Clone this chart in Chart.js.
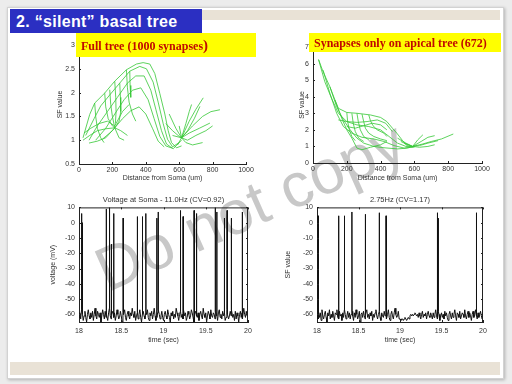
<!DOCTYPE html>
<html>
<head>
<meta charset="utf-8">
<script src="https://cdn.jsdelivr.net/npm/chart.js@4.4.0/dist/chart.umd.min.js"></script>
<style>
  body { margin: 0; width: 512px; height: 384px; background: #ececec; overflow: hidden; position: relative; font-family: Arial, "Liberation Sans", sans-serif; }
  #slide { position: absolute; left: 7px; top: 7px; width: 495px; height: 370px; background: #fff; border: 1px solid #d2d2d2; box-shadow: 1px 1px 3px rgba(0,0,0,0.25); }
  .strip { position: absolute; background: #e9e2d6; }
  #head { position: absolute; left: 10px; top: 9px; width: 192px; height: 24px; background: #2b2fc2; color: #fff; font: bold 16px Arial, "Liberation Sans", sans-serif; letter-spacing: 0.3px; line-height: 25px; padding-left: 6px; box-sizing: border-box; z-index: 3; }
  .label { position: absolute; background: #ffff00; color: #c00a00; font: bold 12px "Liberation Serif", "Times New Roman", serif; box-sizing: border-box; padding-left: 5px; z-index: 3; white-space: nowrap; }
  .label span { font-size: 15px; }
  #mark { position: absolute; left: 50px; top: 175px; width: 400px; text-align: center; font: 62px Arial, "Liberation Sans", sans-serif; line-height: 62px; color: #c8c8c8; transform: rotate(-24deg); z-index: 1; }
  canvas { position: absolute; z-index: 2; }
</style>
</head>
<body>
<div id="slide"></div>
<div class="strip" style="left:202px;top:10px;width:298px;height:10px"></div>
<div class="strip" style="left:10px;top:362px;width:490px;height:13px"></div>
<div id="head">2. “silent” basal tree</div>
<div class="label" style="left:76px;top:33px;width:180px;height:24px;line-height:24px">Full tree (1000 synapses<span>)</span></div>
<div class="label" style="left:309px;top:33px;width:192px;height:19px;line-height:20px">Synapses only on apical tree (672)</div>
<div id="mark">Do not copy</div>
<canvas id="c1" width="220" height="160" style="left:40px;top:30px"></canvas>
<canvas id="c2" width="230" height="160" style="left:270px;top:30px"></canvas>
<canvas id="c3" width="220" height="160" style="left:40px;top:190px"></canvas>
<canvas id="c4" width="230" height="160" style="left:270px;top:190px"></canvas>
<script>
// SF value vs distance from soma, one polyline per branch path [distance, SF]
const fullTree = [
  [[24,1.05],[64,1.54],[94,1.78],[154,1.99],[214,2.24],[284,2.48],[344,2.6],[384,2.63],[424,2.6],[454,2.4],[484,1.98],[514,1.55],[534,1.2],[554,0.95],[584,0.84],[614,0.88]],
  [[40,1.1],[90,1.45],[130,1.72],[184,1.95],[244,2.2],[304,2.45],[364,2.55],[404,2.5],[444,2.22],[474,1.8],[504,1.35],[530,1.02],[560,0.86],[600,0.95]],
  [[60,1.0],[110,1.3],[170,1.6],[230,1.9],[290,2.2],[340,2.35],[390,2.35],[430,2.05],[460,1.65],[494,1.2],[524,0.92],[564,0.82],[614,1.0]],
  [[100,1.0],[160,1.25],[214,1.55],[270,1.85],[320,2.05],[370,2.1],[414,1.85],[450,1.45],[484,1.08],[520,0.88],[560,0.83]],
  [[140,1.02],[200,1.2],[260,1.45],[310,1.62],[360,1.7],[400,1.55],[440,1.25],[474,0.98],[510,0.86]],
  [[94,1.78],[100,1.5],[110,1.25],[130,1.05],[150,0.95]],
  [[154,1.99],[160,1.7],[175,1.45],[200,1.3],[214,1.26]],
  [[184,2.06],[190,1.75],[200,1.5],[214,1.26]],
  [[244,2.2],[248,1.9],[250,1.6],[240,1.4],[214,1.26]],
  [[214,2.24],[220,1.9],[222,1.6],[218,1.35]],
  [[284,2.48],[290,2.1],[300,1.8],[320,1.55],[340,1.4]],
  [[304,2.45],[306,2.15],[310,1.9]],
  [[24,1.0],[64,1.1],[110,1.2],[160,1.24],[214,1.26],[250,1.2],[290,1.1]],
  [[30,1.15],[70,1.25],[120,1.35],[170,1.4],[214,1.3],[260,1.6],[300,1.75]],
  [[60,0.94],[110,0.98],[160,1.05],[214,1.26],[240,1.05],[270,1.0]],
  [[520,1.35],[560,1.2],[600,1.08],[614,1.05],[660,1.4],[700,1.65],[744,1.89]],
  [[540,1.55],[580,1.25],[614,1.05],[650,1.2],[690,1.45],[724,1.71]],
  [[560,1.1],[614,1.05],[680,1.3],[740,1.5],[790,1.6],[844,1.64]],
  [[590,0.9],[614,1.05],[660,1.15],[720,1.25],[784,1.36]],
  [[600,1.3],[614,1.05],[640,0.95],[680,0.9],[740,0.95]],
  [[614,1.05],[640,1.35],[660,1.6],[674,1.75]],
  [[614,1.05],[650,1.0],[700,1.1],[760,1.2],[800,1.3]]
];
const apicalTree = [
  [[33,6.24],[60,5.5],[100,4.6],[130,3.8],[150,3.3],[200,3.05],[260,3.0],[340,2.9],[400,2.75],[437,2.5],[470,2.1],[496,1.8],[530,1.35],[555,1.05],[590,0.95]],
  [[33,6.24],[70,4.9],[110,3.9],[150,3.0],[200,2.5],[260,2.3],[330,2.2],[400,2.0],[450,1.6],[500,1.2],[550,1.0],[600,0.95]],
  [[60,5.6],[100,4.2],[140,3.0],[180,2.2],[230,1.8],[290,1.55],[360,1.45],[420,1.3],[480,1.05],[540,0.9],[600,1.0]],
  [[100,4.6],[140,3.4],[180,2.6],[220,2.0],[260,1.5],[300,1.2],[360,1.0],[420,0.92],[500,0.85],[560,0.9]],
  [[130,3.8],[170,2.7],[200,2.0],[230,1.5],[260,0.9],[290,0.8],[340,0.95],[400,1.1],[437,1.3]],
  [[200,3.05],[205,2.5],[215,2.0],[230,1.6],[250,1.35]],
  [[230,3.0],[238,2.4],[250,1.9],[270,1.5],[300,1.3]],
  [[260,3.0],[268,2.5],[280,2.0],[300,1.6],[330,1.4]],
  [[290,2.95],[300,2.5],[310,2.1],[330,1.8],[360,1.6],[400,1.45],[437,1.35]],
  [[330,2.9],[340,2.55],[355,2.25],[380,2.0],[420,1.8],[437,1.6]],
  [[200,2.2],[250,2.1],[300,2.25],[350,2.4],[400,2.3],[437,2.0]],
  [[150,2.6],[200,2.5],[260,2.45],[320,2.5],[380,2.6],[430,2.4],[470,1.9]],
  [[520,1.3],[560,1.1],[590,1.0],[640,1.3],[680,1.55],[720,1.65]],
  [[540,1.2],[590,1.0],[650,1.15],[700,1.3],[760,1.45],[830,1.75]],
  [[560,0.9],[590,1.0],[630,1.05],[680,1.2],[740,1.35]],
  [[500,1.5],[550,1.2],[590,1.0],[620,1.4],[650,1.7]],
  [[590,1.0],[630,0.95],[680,1.0],[720,1.1]]
];

const distTicks = [0, 200, 400, 600, 800, 1000];
const sfTicksFull = [0.5, 1, 1.5, 2, 2.5, 3];
const sfTicksApical = [0, 1, 2, 3, 4, 5, 6, 7];
const timeTicks = [18, 18.5, 19, 19.5, 20];
const voltTicks = [-60, -50, -40, -30, -20, -10, 0, 10];

// membrane voltage between spikes, sampled every 10 ms from t = 18 s
const somaBase = [
  -62,-59,-63,-57,-60,-64,-61,-58,-62,-65,-60,-57,-61,-63,-59,-62,-58,-64,-60,-56,
  -61,-63,-58,-60,-62,-59,-65,-61,-57,-60,-63,-58,-62,-60,-64,-59,-56,-61,-63,-60,
  -58,-62,-59,-64,-61,-57,-60,-63,-62,-58,-61,-65,-59,-60,-57,-62,-64,-60,-58,-61,
  -63,-59,-61,-56,-60,-62,-58,-64,-61,-59,-63,-60,-57,-62,-65,-60,-58,-61,-63,-59,
  -60,-57,-62,-64,-59,-61,-58,-63,-60,-56,-61,-64,-62,-59,-57,-60,-63,-61,-58,-62,
  -64,-60,-58,-61,-63,-57,-60,-62,-65,-59,-61,-58,-63,-60,-62,-56,-59,-61,-64,-60,
  -58,-62,-60,-63,-57,-61,-59,-64,-62,-58,-60,-63,-61,-57,-59,-62,-65,-60,-58,-61,
  -62,-59,-64,-60,-58,-61,-63,-56,-60,-62,-59,-65,-61,-58,-60,-63,-57,-61,-62,-59,
  -60,-63,-58,-61,-64,-59,-57,-62,-60,-63,-58,-61,-59,-64,-62,-57,-60,-63,-61,-58,
  -61,-57,-62,-60,-64,-58,-63,-59,-61,-65,-60,-58,-62,-59,-63,-56,-60,-62,-58,-61,
  -60
];
const somaSpikeTimes = [18.03,18.04,18.32,18.36,18.38,18.41,18.52,18.69,18.75,18.79,18.92,18.935,19.20,19.23,19.36,19.39,19.61,19.63,19.72,19.75,19.80,19.93];
const somaSpikePeaks = [6,0,9,10,-14,6,3,4,4,6,3,7,8,4,8,6,10,7,3,8,3,7];

const apicalBase = [
  -60,-63,-58,-62,-59,-64,-57,-61,-63,-60,-58,-62,-65,-59,-61,-57,-63,-60,-62,-58,
  -61,-64,-59,-60,-57,-62,-63,-58,-61,-60,-64,-59,-62,-57,-60,-63,-61,-58,-62,-59,
  -63,-60,-58,-61,-64,-59,-62,-57,-60,-63,-61,-58,-65,-60,-59,-62,-58,-61,-63,-60,
  -57,-62,-60,-63,-59,-61,-58,-64,-60,-62,-59,-57,-61,-63,-60,-58,-62,-64,-59,-61,
  -62,-58,-61,-59,-63,-60,-57,-62,-64,-60,-58,-61,-63,-59,-56,-60,-62,-61,-58,-63,
  -63,-64,-63,-63,-64,-63,-62,-63,-64,-63,-62,-63,-61,-60,-61,-60,-61,-60,-59,-60,
  -61,-60,-62,-59,-61,-63,-60,-58,-62,-60,-61,-59,-63,-60,-58,-61,-62,-59,-61,-63,
  -59,-62,-60,-57,-61,-63,-58,-60,-64,-61,-59,-62,-60,-63,-58,-61,-59,-62,-64,-60,
  -58,-61,-63,-59,-62,-60,-57,-61,-64,-59,-60,-62,-58,-63,-61,-59,-60,-62,-57,-61,
  -63,-60,-58,-62,-59,-61,-64,-60,-58,-62,-60,-57,-61,-63,-59,-62,-60,-58,-61,-63,
  -60
];
const apicalSpikeTimes = [18.012,18.26,18.33,18.42,18.58,18.75,18.83,19.45,19.46,19.92];
const apicalSpikePeaks = [4.5,4.5,4.5,7,5.5,6.5,4.5,6.5,3,6.5];

function branches(list) {
  return list.map(b => ({
    data: b.map(p => ({x: p[0], y: p[1]})),
    showLine: true, borderColor: '#35c835', borderWidth: 0.8, pointRadius: 0, fill: false
  }));
}

function trace(base, times, peaks) {
  let pts = base.map((v, i) => ({x: 18 + i * 0.01, y: v}));
  times.forEach((t, k) => {
    let v = base[Math.round((t - 18) / 0.01)];
    pts.push({x: t, y: v}, {x: t + 0.0015, y: peaks[k]}, {x: t + 0.003, y: v});
  });
  pts.sort((a, b) => a.x - b.x);
  return [{data: pts, showLine: true, borderColor: '#111', borderWidth: 1, pointRadius: 0, fill: false}];
}

// matlab style ticks, pointing into the plot
const inTicks = {
  id: 'inTicks',
  afterDraw(chart, args, opts) {
    const ctx = chart.ctx, a = chart.chartArea, sx = chart.scales.x, sy = chart.scales.y;
    ctx.save();
    ctx.strokeStyle = '#222';
    ctx.lineWidth = 1;
    ctx.beginPath();
    sx.ticks.forEach(t => {
      let p = Math.round(sx.getPixelForValue(t.value)) + 0.5;
      ctx.moveTo(p, a.bottom); ctx.lineTo(p, a.bottom - 2);
      if (opts.box) { ctx.moveTo(p, a.top); ctx.lineTo(p, a.top + 2); }
    });
    sy.ticks.forEach(t => {
      let p = Math.round(sy.getPixelForValue(t.value)) + 0.5;
      ctx.moveTo(a.left, p); ctx.lineTo(a.left + 2, p);
      if (opts.box) { ctx.moveTo(a.right, p); ctx.lineTo(a.right - 2, p); }
    });
    if (opts.box) {
      ctx.moveTo(a.left, a.top + 0.5); ctx.lineTo(a.right, a.top + 0.5);
      ctx.moveTo(a.right - 0.5, a.top); ctx.lineTo(a.right - 0.5, a.bottom);
    }
    ctx.stroke();
    ctx.restore();
  }
};

const tickFont = {family: 'Arial, "Liberation Sans", sans-serif', size: 7};

function makeChart(id, datasets, o) {
  return new Chart(document.getElementById(id), {
    type: 'scatter',
    data: {datasets: datasets},
    options: {
      animation: false,
      responsive: false,
      devicePixelRatio: 1,
      layout: {padding: o.pad},
      plugins: {
        legend: {display: false},
        tooltip: {enabled: false},
        title: o.title ? {display: true, text: o.title, fullSize: false, color: '#333',
          font: {family: tickFont.family, size: 7.5, weight: 'normal'}, padding: {top: 5, bottom: 3.4}} : {display: false},
        inTicks: {box: o.box}
      },
      scales: {
        x: {
          type: 'linear', min: o.xMin, max: o.xMax,
          afterBuildTicks: s => { s.ticks = o.xTicks.map(v => ({value: v})); },
          afterFit: s => { s.height = o.xh; },
          grid: {display: false, drawTicks: false},
          border: {color: '#222'},
          ticks: {font: tickFont, color: '#333', padding: o.xPad, autoSkip: false, maxRotation: 0, callback: v => String(v)},
          title: {display: true, text: o.xTitle, color: '#333', font: tickFont, padding: {top: 0, bottom: o.xTitlePad}}
        },
        y: {
          type: 'linear', min: o.yMin, max: o.yMax,
          afterBuildTicks: s => { s.ticks = o.yTicks.map(v => ({value: v})); },
          afterFit: s => { s.width = o.yw; },
          grid: {display: false, drawTicks: false},
          border: {color: '#222'},
          ticks: {font: tickFont, color: '#333', padding: 4, autoSkip: false, callback: v => String(v)},
          title: {display: true, text: o.yTitle, color: '#333', font: tickFont, padding: {top: o.yTitlePad, bottom: 0}}
        }
      }
    },
    plugins: [inTicks]
  });
}

makeChart('c1', branches(fullTree), {
  pad: {left: 0, top: 15, right: 14, bottom: 0}, xh: 26, yw: 39,
  xMin: 0, xMax: 1000, xTicks: distTicks, yMin: 0.5, yMax: 3, yTicks: sfTicksFull,
  xPad: 2, xTitle: 'Distance from Soma (um)', xTitlePad: 7.8, yTitle: 'SF value', yTitlePad: 15.8, box: false
});
makeChart('c2', branches(apicalTree), {
  pad: {left: 0, top: 17, right: 18, bottom: 0}, xh: 27, yw: 43,
  xMin: 0, xMax: 1000, xTicks: distTicks, yMin: 0, yMax: 7, yTicks: sfTicksApical,
  xPad: 2, xTitle: 'Distance from Soma (um)', xTitlePad: 8, yTitle: 'SF value', yTitlePad: 27.5, box: false
});
makeChart('c3', trace(somaBase, somaSpikeTimes, somaSpikePeaks), {
  pad: {left: 0, top: 0, right: 12, bottom: 0}, xh: 28, yw: 39,
  xMin: 18, xMax: 20, xTicks: timeTicks, yMin: -65, yMax: 10, yTicks: voltTicks,
  xPad: 5, xTitle: 'time (sec)', xTitlePad: 5.8, yTitle: 'voltage (mV)', yTitlePad: 9, box: true,
  title: 'Voltage at Soma - 11.0Hz (CV=0.92)'
});
makeChart('c4', trace(apicalBase, apicalSpikeTimes, apicalSpikePeaks), {
  pad: {left: 0, top: 0, right: 17, bottom: 0}, xh: 28, yw: 47,
  xMin: 18, xMax: 20, xTicks: timeTicks, yMin: -65, yMax: 10, yTicks: voltTicks,
  xPad: 5, xTitle: 'time (sec)', xTitlePad: 5.8, yTitle: 'SF value', yTitlePad: 14, box: true,
  title: '2.75Hz (CV=1.17)'
});
</script>
</body>
</html>
